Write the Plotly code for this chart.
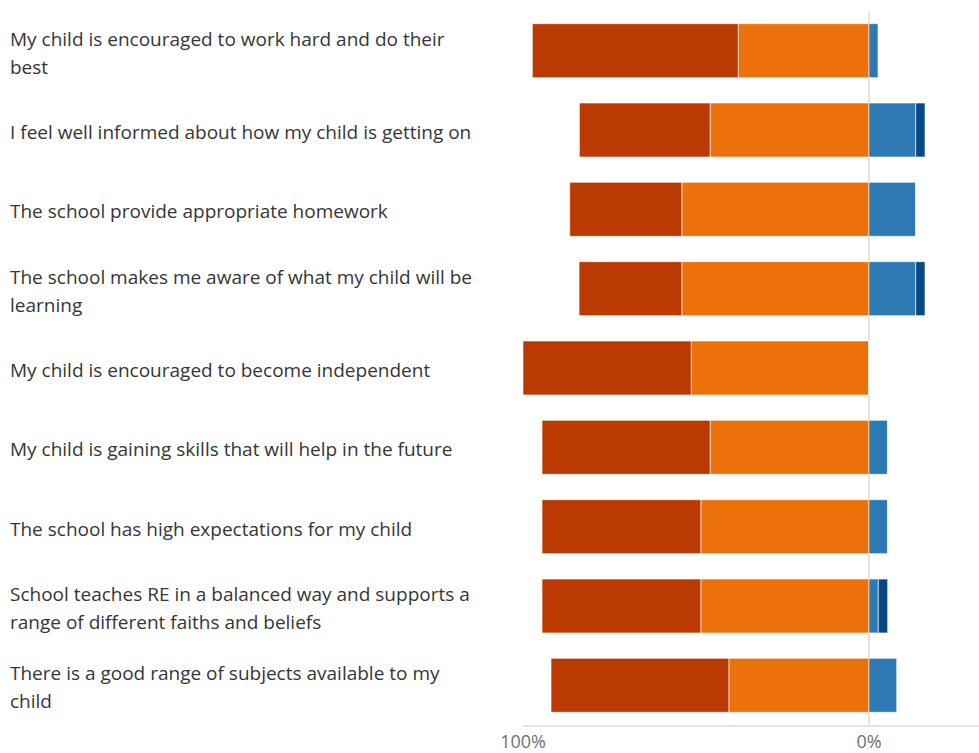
import plotly.graph_objects as go

categories = [
    "My child is encouraged to work hard and do their<br>best",
    "I feel well informed about how my child is getting on",
    "The school provide appropriate homework",
    "The school makes me aware of what my child will be<br>learning",
    "My child is encouraged to become independent",
    "My child is gaining skills that will help in the future",
    "The school has high expectations for my child",
    "School teaches RE in a balanced way and supports a<br>range of different faiths and beliefs",
    "There is a good range of subjects available to my<br>child",
]
strongly_agree = [59.5, 37.8, 32.4, 29.7, 48.6, 48.6, 45.9, 45.9, 51.4]
agree = [37.8, 45.9, 54.1, 54.1, 51.4, 45.9, 48.6, 48.6, 40.5]
disagree = [2.7, 13.5, 13.5, 13.5, 0, 5.4, 5.4, 2.7, 8.1]
strongly_disagree = [0, 2.7, 0, 2.7, 0, 0, 0, 2.7, 0]

tick_vals = [-100, 0]
tick_text = ["100%", "0%"]

C_SA = "#BB3A01"
C_A = "#EC710B"
C_D = "#2C79B4"
C_SD = "#084983"

yidx = list(range(len(categories)))
line = dict(color="rgba(255,255,255,0.6)", width=1)

fig = go.Figure()
fig.add_trace(go.Bar(y=yidx, x=[-v for v in agree], orientation="h", name="Agree",
                     marker=dict(color=C_A, line=line)))
fig.add_trace(go.Bar(y=yidx, x=[-v for v in strongly_agree], orientation="h", name="Strongly agree",
                     marker=dict(color=C_SA, line=line)))
fig.add_trace(go.Bar(y=yidx, x=disagree, orientation="h", name="Disagree",
                     marker=dict(color=C_D, line=line)))
fig.add_trace(go.Bar(y=yidx, x=strongly_disagree, orientation="h", name="Strongly disagree",
                     marker=dict(color=C_SD, line=line)))

L = 523
W = 979
plot_w = W - L
FONT = "Segoe UI, Open Sans, sans-serif"
for i, c in enumerate(categories):
    parts = c.split("<br>")
    n = len(parts)
    for k, p in enumerate(parts):
        fig.add_annotation(
            text=p, xref="paper", yref="y", x=-(L - 8) / plot_w, y=i,
            yshift=-(k - (n - 1) / 2) * 28 - 2,
            xanchor="left", yanchor="middle", align="left", showarrow=False,
            font=dict(family=FONT, size=19, color="#363636"),
        )

fig.update_layout(
    width=W, height=753,
    margin=dict(l=L, r=0, t=11, b=25),
    barmode="relative", bargap=0.32,
    plot_bgcolor="white", paper_bgcolor="white",
    showlegend=False,
    xaxis=dict(range=[-100, 31.8], tickvals=tick_vals, ticktext=tick_text,
               showgrid=True, gridcolor="#E3E3E3", gridwidth=1.5, zeroline=False,
               showline=True, linecolor="#E3E3E3", linewidth=1.5,
               ticks="", ticklen=0,
               tickfont=dict(family=FONT, size=18, color="#707070")),
    yaxis=dict(range=[8.5, -0.5], showticklabels=False, showgrid=False, zeroline=False,
               showline=False),
)

fig.write_html("out.html", config={"displayModeBar": False},
               post_script="document.body.style.margin='0';")
